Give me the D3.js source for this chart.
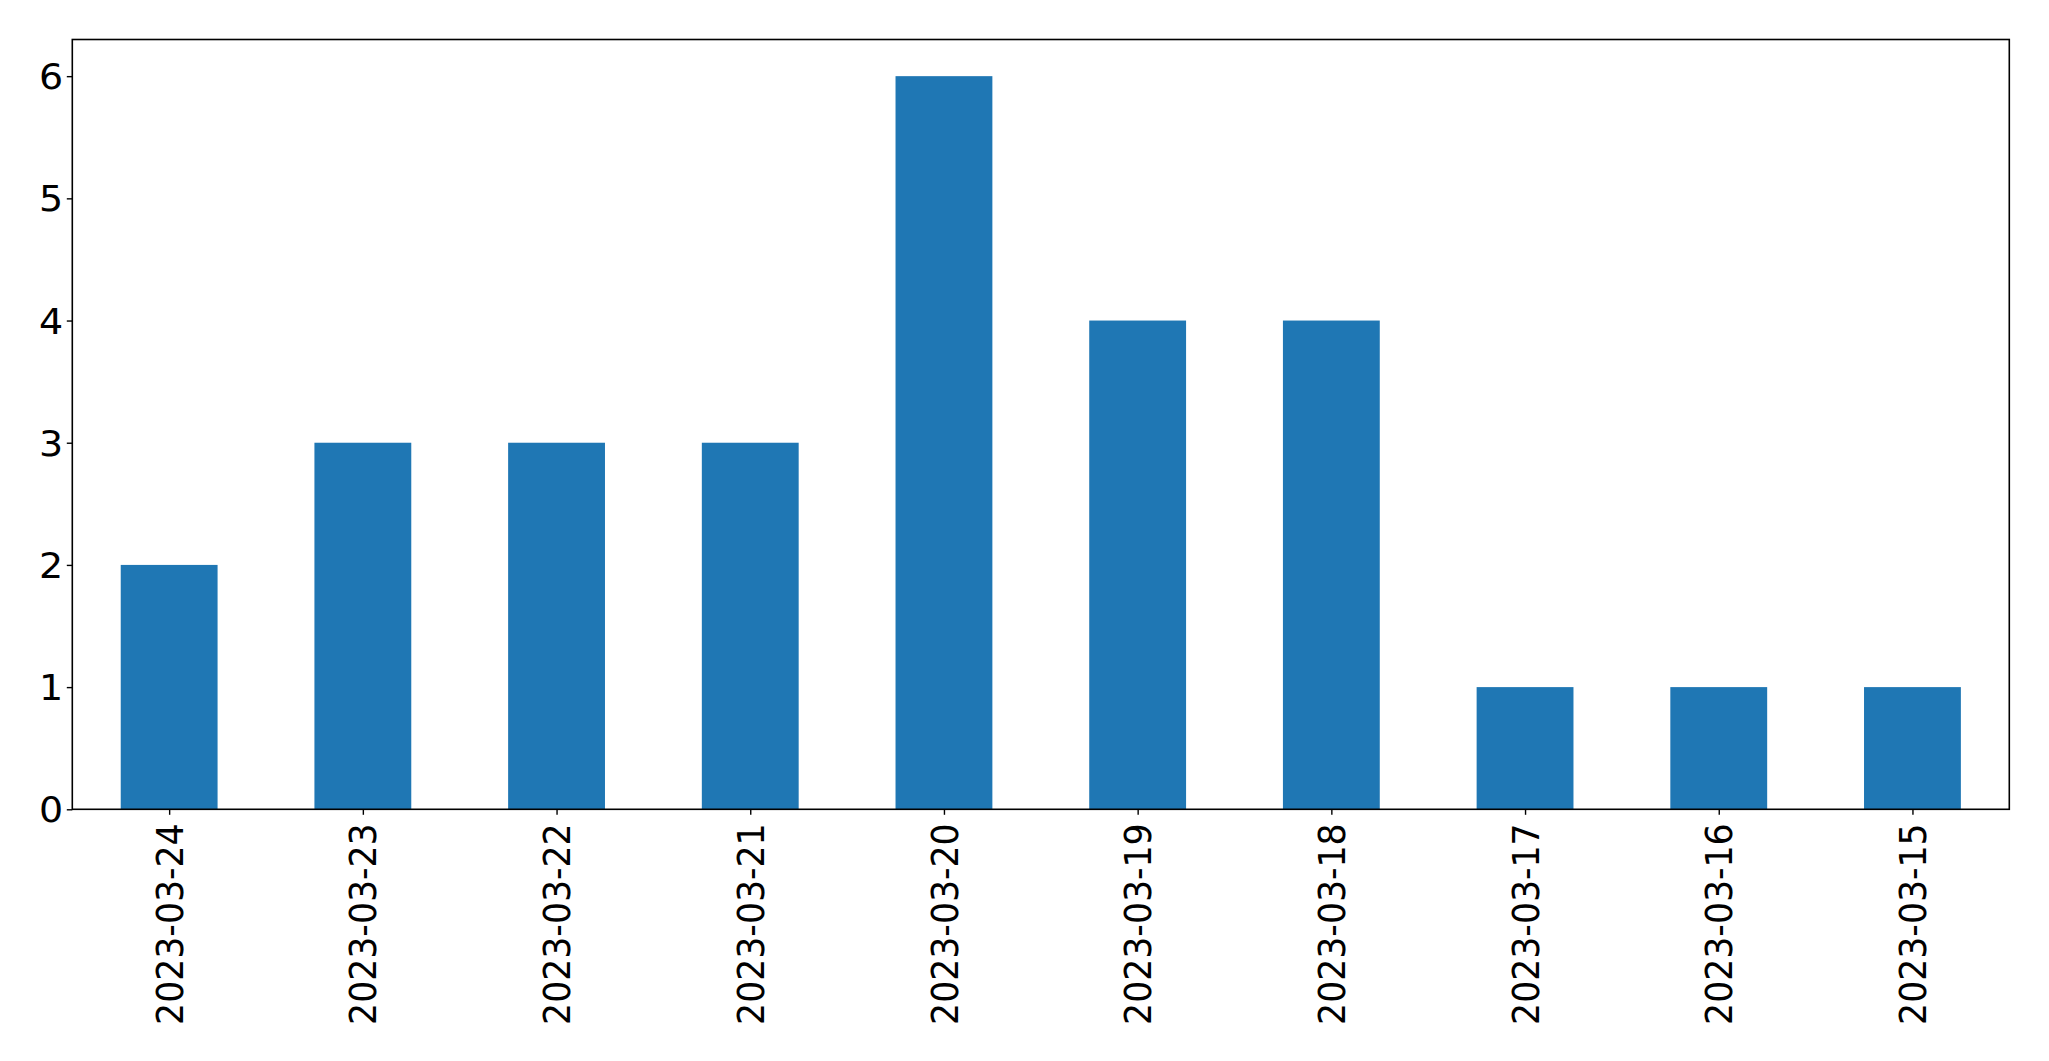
<!DOCTYPE html>
<html><head><meta charset="utf-8">
<script src="https://cdn.jsdelivr.net/npm/d3@7"></script>
<style>html,body{margin:0;padding:0;background:#fff;}svg{display:block;}</style>
</head><body>
<svg id="chart" width="2049" height="1061"></svg>
<script>
const categories = ["2023-03-24","2023-03-23","2023-03-22","2023-03-21","2023-03-20","2023-03-19","2023-03-18","2023-03-17","2023-03-16","2023-03-15"];
const values = [2,3,3,3,6,4,4,1,1,1];
const yTicks = [0,1,2,3,4,5,6];

const svg = d3.select("#chart");
const m = {left:72.3, top:39.5, right:2009.3, bottom:809.3};
const fontFam = "'DejaVu Sans', sans-serif";
const fs = 34.7;
const sx = 1.095;

const x = d3.scaleLinear().domain([-0.5, categories.length - 0.5]).range([m.left, m.right]);
const y = d3.scaleLinear().domain([0, 6.3]).range([m.bottom, m.top]);

svg.append("g").selectAll("rect").data(values).join("rect")
  .attr("x", (d,i) => x(i - 0.25))
  .attr("width", (d,i) => x(i + 0.25) - x(i - 0.25))
  .attr("y", d => y(d))
  .attr("height", d => y(0) - y(d))
  .attr("fill", "#1f77b4");

// y axis
const yAxis = d3.axisLeft(y).tickValues(yTicks).tickFormat(d3.format("d")).tickSize(5.5).tickPadding(6);
const gy = svg.append("g").attr("transform", `translate(${m.left},0)`).call(yAxis);
gy.select(".domain").remove();
gy.selectAll("line").attr("stroke","#000").attr("stroke-width",1.4);
gy.selectAll("text").attr("font-family",fontFam).attr("font-size",fs).attr("fill","#000")
  .attr("x", 0).attr("dy","0.36em")
  .attr("transform", `translate(-9,0) scale(${sx},1)`);

// x axis
const xAxis = d3.axisBottom(x).tickValues(d3.range(categories.length)).tickFormat(i => categories[i]).tickSize(5.5).tickPadding(0);
const gx = svg.append("g").attr("transform", `translate(0,${m.bottom})`).call(xAxis);
gx.select(".domain").remove();
gx.selectAll("line").attr("stroke","#000").attr("stroke-width",1.4);
gx.selectAll("text")
  .attr("font-family",fontFam).attr("font-size",fs).attr("fill","#000")
  .attr("text-anchor","end")
  .attr("dy", null).attr("y", null)
  .attr("dominant-baseline","central")
  .attr("transform",`translate(0,14) scale(${sx},1) rotate(-90)`);

// frame
svg.append("rect").attr("x",m.left).attr("y",m.top)
  .attr("width",m.right-m.left).attr("height",m.bottom-m.top)
  .attr("fill","none").attr("stroke","#000").attr("stroke-width",1.6);
</script>
</body></html>
